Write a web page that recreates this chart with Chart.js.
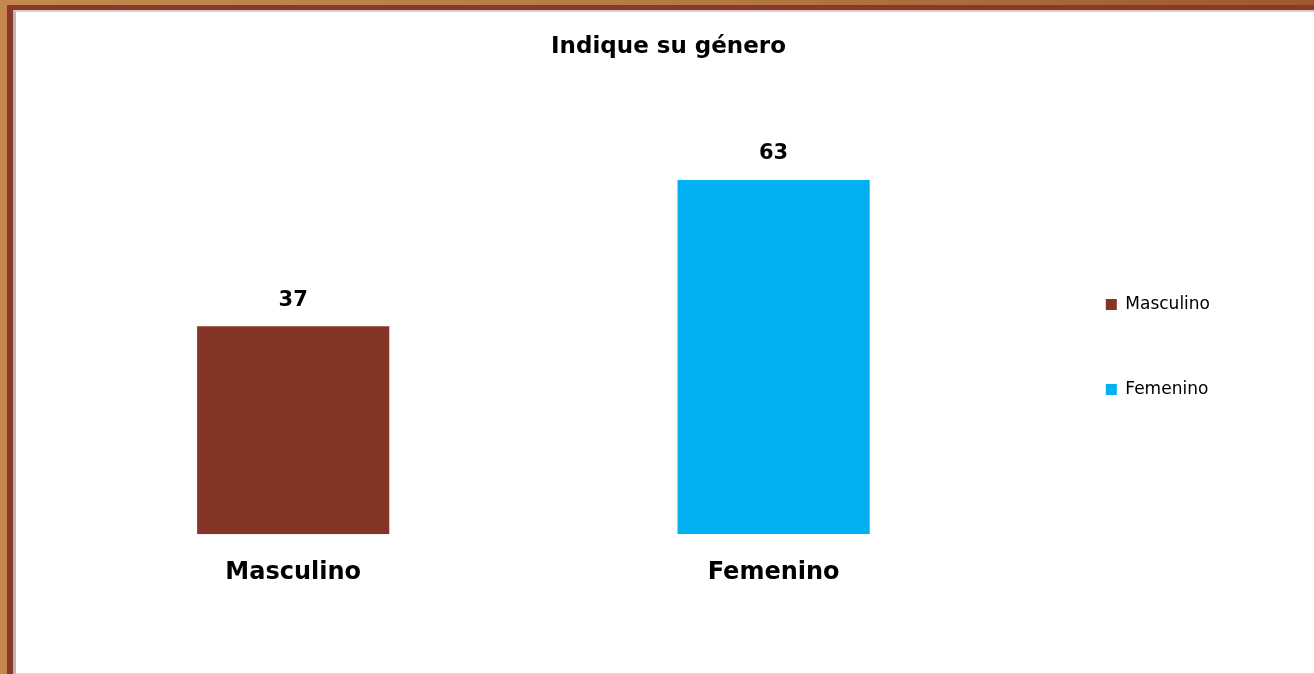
<!DOCTYPE html>
<html>
<head>
<meta charset="utf-8">
<script src="https://cdn.jsdelivr.net/npm/chart.js@4"></script>
<style>
    html, body { margin: 0; padding: 0; }
    body {
        width: 1314px; height: 674px; overflow: hidden; position: relative;
        background: linear-gradient(to right, #c4884f, #b87a45 50%, #9c5a2e);
    }
    #frame {
        position: absolute; left: 7px; top: 5px; width: 1330px; height: 690px;
        background: #8a3827;
    }
    #panel {
        position: absolute; left: 13px; top: 10px; width: 1320px; height: 661px;
        background: #fff;
        border-top: 2px solid #d9d0cd;
        border-left: 3px solid #b9b9b9;
        border-bottom: 3px solid #dcdcdc;
    }
    #wrap { position: absolute; left: 16px; top: 12px; width: 1298px; height: 659px; }
</style>
</head>
<body>
<div id="frame"></div>
<div id="panel"></div>
<div id="wrap"><canvas id="genderChart"></canvas></div>
<script>
// Chart data
const categories = ['Masculino', 'Femenino'];
const values = [37, 63];
const barColors = ['#853525', '#00b0f0'];
const titleText = 'Indique su género';

const fontFamily = "'DejaVu Sans', sans-serif";

// Value labels on top of the bars
const valueLabels = {
    id: 'valueLabels',
    afterDatasetsDraw(chart) {
        const ctx = chart.ctx;
        const meta = chart.getDatasetMeta(0);
        ctx.save();
        ctx.font = 'bold 21px ' + fontFamily;
        ctx.fillStyle = '#000';
        ctx.textAlign = 'center';
        ctx.textBaseline = 'middle';
        meta.data.forEach(function (bar, i) {
            ctx.fillText(values[i], bar.x, bar.y - 26);
        });
        ctx.restore();
    }
};

new Chart(document.getElementById('genderChart'), {
    type: 'bar',
    data: {
        labels: categories,
        datasets: [{
            label: titleText,
            data: values,
            backgroundColor: barColors,
            borderWidth: 0,
            barPercentage: 0.4,
            categoryPercentage: 1
        }]
    },
    options: {
        responsive: true,
        maintainAspectRatio: false,
        animation: false,
        layout: { padding: { left: 37, right: 30, top: 0, bottom: 60 } },
        plugins: {
            title: {
                display: true,
                text: titleText,
                color: '#000',
                font: { family: fontFamily, size: 23, weight: 'bold' },
                padding: { top: 21, bottom: 80 }
            },
            legend: {
                position: 'right',
                title: {
                    display: true,
                    text: ' ',
                    font: { size: 10 },
                    padding: { top: 0, bottom: 59 }
                },
                labels: {
                    boxWidth: 11,
                    boxHeight: 11,
                    padding: 68,
                    color: '#000',
                    font: { family: fontFamily, size: 17 },
                    generateLabels: function () {
                        return categories.map(function (c, i) {
                            return {
                                text: c,
                                fillStyle: barColors[i],
                                strokeStyle: barColors[i],
                                fontColor: '#000',
                                lineWidth: 0,
                                index: i
                            };
                        });
                    }
                }
            },
            tooltip: { enabled: false }
        },
        scales: {
            x: {
                grid: { display: false, drawTicks: false },
                border: { display: false },
                ticks: {
                    color: '#000',
                    padding: 24,
                    font: { family: fontFamily, size: 24, weight: 'bold' }
                }
            },
            y: {
                position: 'right',
                min: 0,
                max: 70,
                grid: { display: false, drawTicks: false },
                border: { display: false },
                ticks: { display: false },
                afterFit: function (scale) { scale.width = 24; }
            },
            // empty spacer to the right of the legend
            yEdge: {
                type: 'linear',
                position: 'right',
                weight: 2000,
                grid: { display: false, drawTicks: false },
                border: { display: false },
                ticks: { display: false },
                afterFit: function (scale) { scale.width = 64; }
            }
        }
    },
    plugins: [valueLabels]
});
</script>
</body>
</html>
